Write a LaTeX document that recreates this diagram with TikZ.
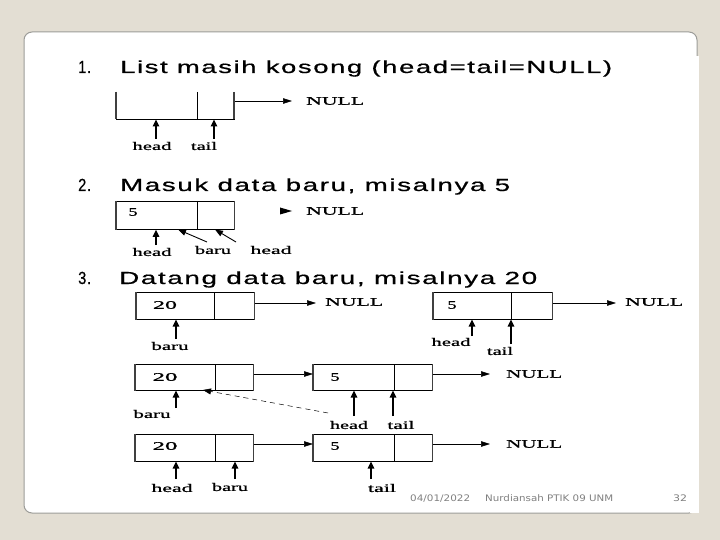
\documentclass[tikz,border=0pt]{standalone}
\usepackage{fontspec}
\usepackage{graphicx}
\setmainfont{Liberation Serif}
\newfontfamily\titlef[LetterSpace=6,FakeBold=0.6]{Liberation Sans}
\newfontfamily\lblf[FakeBold=0.8]{Liberation Serif}
\newfontfamily\footf{DejaVu Sans}
\usetikzlibrary{arrows.meta}
\definecolor{bg}{HTML}{E3DED3}
\definecolor{frame}{HTML}{9C9C98}
\newcommand{\sw}[2]{\resizebox{#1}{\height}{#2}}
\tikzset{
  lbl/.style={inner sep=0pt, font=\lblf\fontsize{11.5}{11.5}\selectfont},
  ttl/.style={inner sep=0pt, anchor=base west, font=\titlef\fontsize{17.5}{17.5}\selectfont},
  foot/.style={inner sep=0pt, anchor=base west, text=gray, font=\footf\fontsize{9}{9}\selectfont},
  cell/.style={draw=black, line width=0.8pt, inner sep=0pt, anchor=north west},
  side/.style={draw=black!75, line width=1.3pt},
  conn/.style={-{Triangle[length=9pt,width=5.5pt]}, line width=0.5pt},
  up/.style={-{Triangle[length=7pt,width=6.5pt]}, line width=1.5pt},
  diag/.style={-{Triangle[length=8pt,width=6pt]}, line width=0.9pt},
}
\begin{document}
\begin{tikzpicture}[x=1pt,y=-1pt]
\useasboundingbox (0,0) rectangle (720,540);
\fill[bg] (0,0) rectangle (720,540);
\filldraw[fill=white, draw=frame, line width=1pt, rounded corners=8pt] (24,32) rectangle (697,513);
\fill[white] (690,56) rectangle (698.5,512.5);

% ---------- titles
\node[ttl] (n1) at (78,73) {\sw{13pt}{1.}};
\node[ttl] (t1) at (120,73) {\sw{492pt}{List masih kosong (head=tail=NULL)}};
\node[ttl] (n2) at (78,191) {\sw{13pt}{2.}};
\node[ttl] (t2) at (120,191) {\sw{390pt}{Masuk data baru, misalnya 5}};
\node[ttl] (n3) at (78,284) {\sw{13pt}{3.}};
\node[ttl] (t3) at (119,284) {\sw{418pt}{Datang data baru, misalnya 20}};

% ---------- 1
\draw[line width=0.8pt] (116,92) -- (116,119) -- (234,119) -- (234,92);
\draw[side] (116,92) -- (116,119) (234,92) -- (234,119);
\draw[line width=0.8pt] (197,92) -- (197,119);
\coordinate (d1r) at (235,101);
\node[lbl, anchor=west] (null1) at (306,101) {\sw{58pt}{NULL}};
\draw[conn] (d1r) -- ([xshift=-14pt]null1.west);
\node[lbl] (h1) at (152,146) {\sw{39pt}{head}};
\node[lbl] (ta1) at (204,146) {\sw{26pt}{tail}};
\coordinate (h1a) at (156,139);
\coordinate (ta1a) at (214,139);
\draw[up] (h1a) -- (156,119.5);
\draw[up] (ta1a) -- (214,119.5);

% ---------- 2
\node[cell, minimum width=118pt, minimum height=28pt] (b2) at (116,201) {};
\draw[side] (b2.north west) -- (b2.south west) (b2.north east) -- (b2.south east);
\draw[line width=0.8pt] (197,201) -- (197,229);
\node[lbl] (v2) at (133,212) {\sw{9pt}{5}};
\node[lbl, anchor=west] (null2) at (306,211) {\sw{58pt}{NULL}};
\fill (280,207.5) -- (292,211) -- (280,214.5) -- cycle;
\node[lbl] (h2) at (152,252) {\sw{39pt}{head}};
\node[lbl] (br2) at (213,250) {\sw{36pt}{baru}};
\node[lbl] (h2b) at (271,250) {\sw{41pt}{head}};
\draw[up] (156,245) -- (b2.south -| 156,0);
\draw[diag] (207,242) -- (178,229.5);
\draw[diag] (236,242) -- (215,229.5);

% ---------- 3a
\node[cell, minimum width=118pt, minimum height=27pt] (a1) at (136,292) {};
\draw[side] (a1.north west) -- (a1.south west) (a1.north east) -- (a1.south east);
\draw[line width=0.8pt] (214,292) -- (214,319);
\node[lbl] (a1v) at (165,305) {\sw{24pt}{20}};
\node[lbl, anchor=west] (anull1) at (325,302) {\sw{58pt}{NULL}};
\draw[conn] (a1.east |- 0,303) -- ([xshift=-9pt]anull1.west |- 0,303);
\node[cell, minimum width=119pt, minimum height=27pt] (a2) at (433,292) {};
\draw[side] (a2.north west) -- (a2.south west) (a2.north east) -- (a2.south east);
\draw[line width=0.8pt] (511,292) -- (511,319);
\node[lbl] (a2v) at (452,305) {\sw{9pt}{5}};
\node[lbl, anchor=west] (anull2) at (625,302) {\sw{58pt}{NULL}};
\draw[conn] (a2.east |- 0,303) -- ([xshift=-9pt]anull2.west |- 0,303);
\node[lbl] (abaru) at (170,346) {\sw{37pt}{baru}};
\node[lbl] (ahead) at (451,342) {\sw{39pt}{head}};
\node[lbl] (atail) at (500,351) {\sw{26pt}{tail}};
\draw[up] (176,339) -- (176,319.5);
\draw[up] (472,336) -- (472,319.5);
\draw[up] (511,344) -- (511,319.5);

% ---------- 3b
\node[cell, minimum width=118pt, minimum height=26pt] (c1) at (135,364) {};
\draw[side] (c1.north west) -- (c1.south west) (c1.north east) -- (c1.south east);
\draw[line width=0.8pt] (215,364) -- (215,390);
\node[lbl] (c1v) at (165,377) {\sw{25pt}{20}};
\node[cell, minimum width=119pt, minimum height=26pt] (c2) at (313,364) {};
\draw[side] (c2.north west) -- (c2.south west) (c2.north east) -- (c2.south east);
\draw[line width=0.8pt] (394,364) -- (394,390);
\node[lbl] (c2v) at (335,377) {\sw{9pt}{5}};
\node[lbl, anchor=west] (cnull) at (506,374) {\sw{56pt}{NULL}};
\draw[conn] (c1.east |- 0,374) -- (c2.west |- 0,374);
\draw[conn] (c2.east |- 0,374) -- ([xshift=-16pt]cnull.west |- 0,374);
\node[lbl] (cbaru) at (152,414) {\sw{37pt}{baru}};
\node[lbl] (chead) at (349,425) {\sw{38pt}{head}};
\node[lbl] (ctail) at (401,425) {\sw{27pt}{tail}};
\draw[up] (176,408) -- (176,390.5);
\draw[up] (354,416) -- (354,390.5);
\draw[up] (393,416) -- (393,390.5);
\coordinate (dstart) at (328,413);
\draw[dashed, dash pattern=on 5pt off 4pt, line width=0.5pt, -{Triangle[length=8pt,width=6pt]}] (dstart) -- (203,390);

% ---------- 3c
\node[cell, minimum width=118pt, minimum height=27pt] (e1) at (135,434) {};
\draw[side] (e1.north west) -- (e1.south west) (e1.north east) -- (e1.south east);
\draw[line width=0.8pt] (215,434) -- (215,461);
\node[lbl] (e1v) at (165,446) {\sw{25pt}{20}};
\node[cell, minimum width=119pt, minimum height=27pt] (e2) at (313,434) {};
\draw[side] (e2.north west) -- (e2.south west) (e2.north east) -- (e2.south east);
\draw[line width=0.8pt] (394,434) -- (394,461);
\node[lbl] (e2v) at (335,446) {\sw{9pt}{5}};
\node[lbl, anchor=west] (enull) at (506,444) {\sw{56pt}{NULL}};
\draw[conn] (e1.east |- 0,444) -- (e2.west |- 0,444);
\draw[conn] (e2.east |- 0,444) -- ([xshift=-16pt]enull.west |- 0,444);
\node[lbl] (ehead) at (172,488) {\sw{41pt}{head}};
\node[lbl] (ebaru) at (230,487) {\sw{36pt}{baru}};
\node[lbl] (etail) at (382,488) {\sw{28pt}{tail}};
\draw[up] (176,479) -- (176,461.5);
\draw[up] (235,479) -- (235,461.5);
\draw[up] (371,479) -- (371,461.5);

% ---------- footer
\node[foot] (date) at (410,501) {\sw{60pt}{04/01/2022}};
\node[foot] (auth) at (485,501) {\sw{128pt}{Nurdiansah PTIK 09 UNM}};
\node[foot] (pg) at (673,501) {\sw{14pt}{32}};
\end{tikzpicture}
\end{document}
